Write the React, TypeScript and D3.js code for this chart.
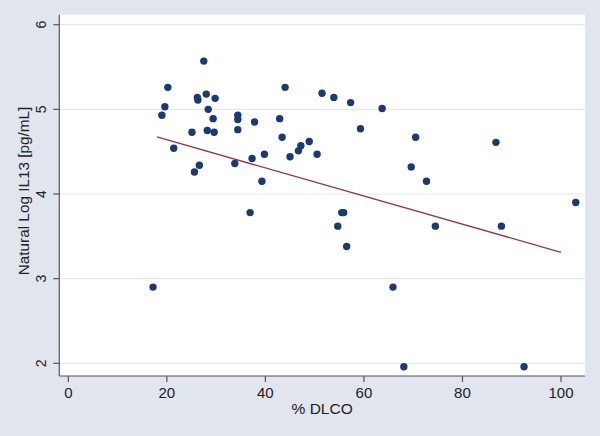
import React from "react";
import * as d3 from "d3";

const dlco: number[] = [
  17.2, 19.0, 19.6, 20.2, 21.4, 25.1, 25.6, 26.2, 26.3, 26.6,
  27.5, 28.0, 28.4, 28.2, 29.4, 29.8, 29.6, 33.8, 34.4, 34.4,
  34.4, 36.9, 37.3, 37.8, 39.3, 39.8, 42.9, 43.4, 44.0, 45.0,
  46.7, 47.2, 48.9, 50.5, 51.5, 53.9, 57.3, 63.7, 59.3, 54.7,
  55.5, 55.9, 56.5, 65.9, 68.1, 69.6, 70.5, 72.7, 74.5, 86.8,
  87.9, 92.5, 103.0,
];
const logIL13: number[] = [
  2.90, 4.93, 5.03, 5.26, 4.54, 4.73, 4.26, 5.14, 5.11, 4.34,
  5.57, 5.18, 5.00, 4.75, 4.89, 5.13, 4.73, 4.36, 4.93, 4.88,
  4.76, 3.78, 4.42, 4.85, 4.15, 4.47, 4.89, 4.67, 5.26, 4.44,
  4.51, 4.57, 4.62, 4.47, 5.19, 5.14, 5.08, 5.01, 4.77, 3.62,
  3.78, 3.78, 3.38, 2.90, 1.96, 4.32, 4.67, 4.15, 3.62, 4.61,
  3.62, 1.96, 3.90,
];

const xTicks: number[] = [0, 20, 40, 60, 80, 100];
const yTicks: number[] = [2, 3, 4, 5, 6];

const fitIntercept = 4.973;
const fitSlope = -0.01662;
const fitRange: number[] = [18.0, 100];

const xTitle = "% DLCO";
const yTitle = "Natural Log IL13 [pg/mL]";

const W = 600;
const H = 436;
const plotLeft = 59.3;
const plotRight = 585;
const plotTop = 14.7;
const plotBottom = 376;

const BG = "#e0e5ee";
const DOT = "#1c3a6d";
const LINE = "#90353b";
const AXIS = "#555555";
const GRID = "#e4e7ee";
const FONT = "Liberation Sans, Arial, sans-serif";

export default function App() {
  const x = d3.scaleLinear().domain([0, 100]).range([68.3, 561]);
  const y = d3.scaleLinear().domain([2, 6]).range([363.3, 24.7]);

  const pts = dlco.map((d, i) => ({ x: d, y: logIL13[i] }));
  const fitPts = fitRange.map((v) => ({ x: v, y: fitIntercept + fitSlope * v }));
  const lineGen = d3
    .line<{ x: number; y: number }>()
    .x((d) => x(d.x))
    .y((d) => y(d.y));

  return (
    <svg
      width={W}
      height={H}
      style={{ position: "absolute", left: 0, top: 0, display: "block" }}
      fontFamily={FONT}
    >
      <rect x={0} y={0} width={W} height={H} fill={BG} />
      <rect
        x={plotLeft}
        y={plotTop}
        width={plotRight - plotLeft}
        height={plotBottom - plotTop}
        fill="#ffffff"
      />
      {yTicks.map((t) => (
        <line
          key={"g" + t}
          x1={plotLeft}
          x2={plotRight}
          y1={y(t)}
          y2={y(t)}
          stroke={GRID}
          strokeWidth={1.2}
        />
      ))}
      {/* axes */}
      <line x1={plotLeft} x2={plotLeft} y1={plotTop} y2={plotBottom} stroke={AXIS} strokeWidth={1.2} />
      <line x1={plotLeft} x2={plotRight} y1={plotBottom} y2={plotBottom} stroke={AXIS} strokeWidth={1.2} />
      {yTicks.map((t) => (
        <g key={"yt" + t}>
          <line x1={plotLeft - 6} x2={plotLeft} y1={y(t)} y2={y(t)} stroke={AXIS} strokeWidth={1.2} />
          <text
            transform={`translate(46,${y(t)}) rotate(-90)`}
            textAnchor="middle"
            fontSize={14}
            fill="#222"
          >
            {t}
          </text>
        </g>
      ))}
      {xTicks.map((t) => (
        <g key={"xt" + t}>
          <line x1={x(t)} x2={x(t)} y1={plotBottom} y2={plotBottom + 6} stroke={AXIS} strokeWidth={1.2} />
          <text x={x(t)} y={398} textAnchor="middle" fontSize={15} fill="#222">
            {t}
          </text>
        </g>
      ))}
      <text x={(plotLeft + plotRight) / 2} y={414} textAnchor="middle" fontSize={15.5} fill="#222">
        {xTitle}
      </text>
      <text
        transform={`translate(28.5,191) rotate(-90)`}
        textAnchor="middle"
        fontSize={15.3}
        fill="#222"
      >
        {yTitle}
      </text>
      {pts.map((p, i) => (
        <circle key={i} cx={x(p.x)} cy={y(p.y)} r={3.7} fill={DOT} />
      ))}
      <path d={lineGen(fitPts) || ""} fill="none" stroke={LINE} strokeWidth={1.3} />
    </svg>
  );
}
